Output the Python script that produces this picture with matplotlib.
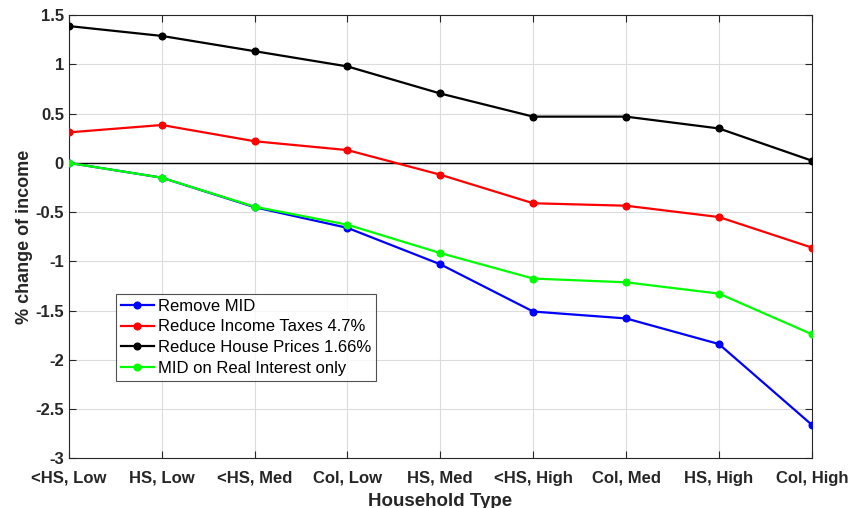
import matplotlib.pyplot as plt
import numpy as np

types = ["<HS, Low", "HS, Low", "<HS, Med", "Col, Low", "HS, Med",
         "<HS, High", "Col, Med", "HS, High", "Col, High"]

remove_mid = [0.0, -0.15, -0.45, -0.66, -1.03, -1.51, -1.58, -1.84, -2.66]
reduce_tax = [0.31, 0.385, 0.22, 0.13, -0.12, -0.41, -0.435, -0.55, -0.86]
reduce_price = [1.39, 1.29, 1.135, 0.98, 0.705, 0.47, 0.47, 0.35, 0.023]
mid_real = [0.0, -0.15, -0.445, -0.628, -0.916, -1.175, -1.213, -1.328, -1.74]

plt.rcParams['font.family'] = ['Liberation Sans', 'DejaVu Sans']

fig = plt.figure(figsize=(8.5, 5.08), dpi=100)
ax = fig.add_axes([0.081, 0.098, 0.874, 0.872])

x = np.arange(len(types))
ax.axhline(0, color='black', lw=1.0, zorder=1)
ax.plot(x, remove_mid, '-o', color='#0000ff', lw=1.6, ms=4.8, label="Remove MID", zorder=3)
ax.plot(x, reduce_tax, '-o', color='#ff0000', lw=1.6, ms=4.8, label="Reduce Income Taxes 4.7%", zorder=3)
ax.plot(x, reduce_price, '-o', color='black', lw=1.6, ms=4.8, label="Reduce House Prices 1.66%", zorder=3)
ax.plot(x, mid_real, '-o', color='#00ff00', lw=1.6, ms=4.8, label="MID on Real Interest only", zorder=3)

ax.set_xlim(0, len(types) - 1)
ax.set_ylim(-3, 1.5)
ax.set_yticks(np.arange(-3, 1.51, 0.5))
ax.set_yticklabels(['-3', '-2.5', '-2', '-1.5', '-1', '-0.5', '0', '0.5', '1', '1.5'],
                   fontweight='bold', fontsize=12)
ax.set_xticks(x)
ax.set_xticklabels(types, fontweight='bold', fontsize=12)
ax.grid(True, color='#dcdcdc', lw=0.8)
ax.set_axisbelow(True)
ax.tick_params(direction='in', top=True, right=True, length=5, colors='#262626',
               labelcolor='#262626', width=0.8)
ax.tick_params(axis='x', pad=9)
for s in ax.spines.values():
    s.set_color('#262626')
    s.set_linewidth(0.8)

ax.set_xlabel("Household Type", fontweight='bold', fontsize=13.5,
              color='#262626', labelpad=5)
ax.set_ylabel("% change of income", fontweight='bold', fontsize=13, color='#262626', labelpad=2)

leg = ax.legend(loc='lower left', bbox_to_anchor=(0.063, 0.174), fontsize=12,
                frameon=True, fancybox=False, handlelength=2.0, handletextpad=0.25,
                borderpad=0.3, labelspacing=0.35, borderaxespad=0)
leg.get_frame().set_edgecolor('#262626')
leg.get_frame().set_linewidth(0.8)

fig.savefig("out.png", dpi=100)
